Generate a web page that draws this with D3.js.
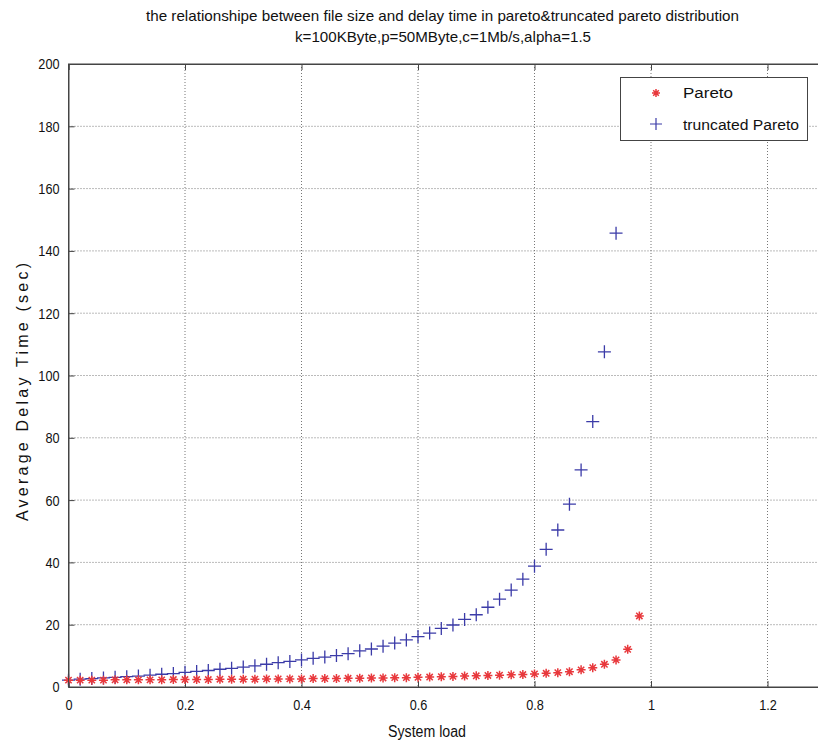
<!DOCTYPE html>
<html><head><meta charset="utf-8">
<script src="https://cdn.jsdelivr.net/npm/d3@7"></script>
<style>
body{margin:0;background:#fff;}
text{font-family:"Liberation Sans Narrow","Arial Narrow","Liberation Sans",Arial,sans-serif;fill:#111;}
</style></head><body>
<svg id="c" width="818" height="744"></svg>
<script>
const loadPareto = d3.range(50).map(i => +(i*0.02).toFixed(2));
const delayPareto = [2.2,2.2,2.2,2.2,2.3,2.3,2.3,2.3,2.3,2.4,2.4,2.4,2.4,2.5,2.5,2.5,2.5,2.6,2.6,2.6,
  2.6,2.7,2.7,2.7,2.8,2.8,2.9,2.9,3.0,3.0,3.1,3.2,3.3,3.4,3.5,3.6,3.7,3.8,3.9,4.0,
  4.2,4.4,4.6,4.9,5.5,6.2,7.3,8.7,12.1,22.8];
const loadTrunc = d3.range(48).map(i => +(i*0.02).toFixed(2));
const delayTrunc = [2.2,2.5,2.7,2.9,3.1,3.3,3.5,3.8,4.1,4.3,4.7,5.0,5.3,5.7,6.0,6.4,6.8,7.3,7.8,8.2,
  8.7,9.2,9.6,10.1,10.7,11.6,12.2,13.1,14.1,15.1,16.2,17.3,18.8,19.9,21.7,23.2,25.6,28.2,31.1,34.6,
  38.8,44.2,50.4,58.7,69.7,85.2,107.6,145.7];
const xTicks = [0,0.2,0.4,0.6,0.8,1,1.2];
const yTicks = [0,20,40,60,80,100,120,140,160,180,200];
const seriesNames = ["Pareto","truncated Pareto"];
const titleLines = ["the relationshipe between file size and delay time in pareto&truncated pareto distribution",
  "k=100KByte,p=50MByte,c=1Mb/s,alpha=1.5"];

const svg = d3.select("#c");
const L = 68.5, T = 64, B = 687;
const x = d3.scaleLinear().domain([0,1.3]).range([L, L + 1.3*582.5]);
const y = d3.scaleLinear().domain([0,200]).range([B, T]);
const R = x(1.3);

// grid
const g = svg.append("g");
g.selectAll(".gx").data(xTicks.slice(1)).join("line")
  .attr("x1",d=>x(d)).attr("x2",d=>x(d)).attr("y1",T).attr("y2",B)
  .attr("stroke","#777").attr("stroke-width",1).attr("stroke-dasharray","1,2");
g.selectAll(".gy").data(yTicks.slice(1,-1)).join("line")
  .attr("x1",L).attr("x2",R).attr("y1",d=>y(d)).attr("y2",d=>y(d))
  .attr("stroke","#777").attr("stroke-width",1).attr("stroke-dasharray","1,2");

// axes
const xa = svg.append("g").attr("transform",`translate(0,${B})`)
  .call(d3.axisBottom(x).tickValues(xTicks).tickSize(-6).tickPadding(12).tickFormat(d=>d3.format("~g")(d)));
const xt = svg.append("g").attr("transform",`translate(0,${T})`)
  .call(d3.axisTop(x).tickValues(xTicks).tickSize(-6).tickFormat(""));
const ya = svg.append("g").attr("transform",`translate(${L},0)`)
  .call(d3.axisLeft(y).tickValues(yTicks).tickSize(-6).tickPadding(10));
[xa,xt,ya].forEach(a=>{
  a.select(".domain").attr("stroke","#444");
  a.selectAll(".tick line").attr("stroke","#444");
  a.selectAll("text").style("font-size","15.5px").attr("fill","#111");
});
xa.selectAll("text").attr("dy","0.35em").attr("y",18).attr("transform","scale(0.82,1)");
ya.selectAll("text").attr("x",-9/0.82).attr("transform","scale(0.82,1)");

// markers
function plusPath(s){return `M${-s},0H${s}M0,${-s}V${s}`;}
function starPath(s){const d=s*0.7;return `M${-s},0H${s}M0,${-s}V${s}M${-d},${-d}L${d},${d}M${-d},${d}L${d},${-d}`;}
const red = "#e8383c", blue = "#3b3ba8";
svg.append("g").selectAll("path").data(loadTrunc.map((t,i)=>[t,delayTrunc[i]])).join("path")
  .attr("transform",d=>`translate(${x(d[0])},${y(d[1])})`)
  .attr("d",plusPath(6.5)).attr("stroke",blue).attr("stroke-width",1.3).attr("fill","none");
svg.append("g").selectAll("path").data(loadPareto.map((t,i)=>[t,delayPareto[i]])).join("path")
  .attr("transform",d=>`translate(${x(d[0])},${y(d[1])})`)
  .attr("d",starPath(4.5)).attr("stroke",red).attr("stroke-width",1.5).attr("fill","none");

// border
svg.append("rect").attr("x",L).attr("y",T).attr("width",R-L).attr("height",B-T)
  .attr("fill","none").attr("stroke","#444").attr("stroke-width",1);

// legend
const lg = svg.append("g");
lg.append("rect").attr("x",620.5).attr("y",77.5).attr("width",187).attr("height",63)
  .attr("fill","#fff").attr("stroke","#444");
lg.append("path").attr("transform","translate(656,93)").attr("d",starPath(4))
  .attr("stroke",red).attr("stroke-width",1.5).attr("fill","none");
lg.append("path").attr("transform","translate(656,124)").attr("d",plusPath(6))
  .attr("stroke",blue).attr("stroke-width",1.2).attr("fill","none");
lg.selectAll("text").data(seriesNames).join("text")
  .attr("x",683).attr("y",(d,i)=>i?125:93).attr("dy","0.35em")
  .style("font-size","15.5px").attr("textLength",(d,i)=>i?116:50).attr("lengthAdjust","spacingAndGlyphs").text(d=>d);

// titles
svg.append("text").attr("x",442.5).attr("y",16).attr("dy","0.35em").attr("text-anchor","middle")
  .style("font-size","15px").attr("textLength",593).attr("lengthAdjust","spacingAndGlyphs").text(titleLines[0]);
svg.append("text").attr("x",443).attr("y",37).attr("dy","0.35em").attr("text-anchor","middle")
  .style("font-size","15px").attr("textLength",296).attr("lengthAdjust","spacingAndGlyphs").text(titleLines[1]);
svg.append("text").attr("x",427).attr("y",731).attr("dy","0.35em").attr("text-anchor","middle")
  .style("font-size","16px").attr("textLength",78).attr("lengthAdjust","spacingAndGlyphs").text("System load");
svg.append("text").attr("transform","translate(22,392) rotate(-90)").attr("dy","0.35em")
  .attr("text-anchor","middle").style("font-size","16px")
  .attr("textLength",258).attr("lengthAdjust","spacing").text("Average Delay Time (sec)");
</script></body></html>
